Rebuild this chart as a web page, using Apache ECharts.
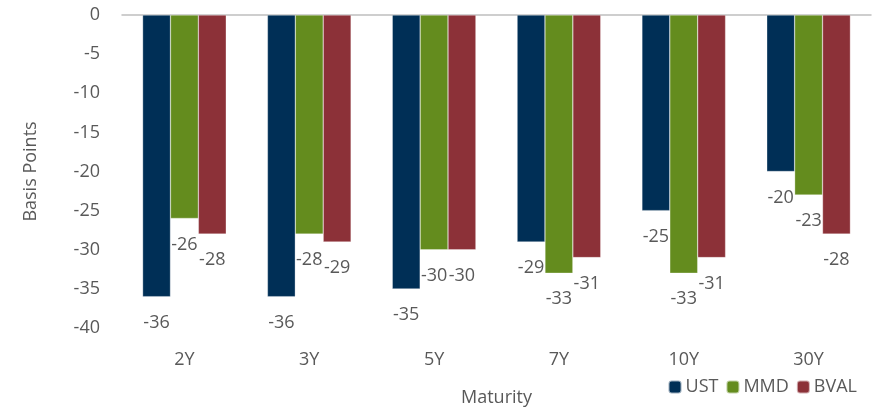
<!DOCTYPE html>
<html>
<head>
<meta charset="utf-8">
<script src="https://cdn.jsdelivr.net/npm/echarts@6/dist/echarts.min.js"></script>
<style>
  html, body { margin: 0; padding: 0; background: #fff; }
  #chart { width: 876px; height: 408px; }
</style>
</head>
<body>
<div id="chart"></div>
<script>
const maturities = ['2Y', '3Y', '5Y', '7Y', '10Y', '30Y'];
const ust = [-36, -36, -35, -29, -25, -20];
const mmd = [-26, -28, -30, -33, -33, -23];
const bval = [-28, -29, -30, -31, -31, -28];

const textColor = '#595959';
const fontFamily = 'Open Sans, sans-serif';
const fs = 18;

function barSeries(name, data, color) {
  return {
    name: name,
    type: 'bar',
    data: data,
    barGap: '0%',
    barCategoryGap: '33%',
    itemStyle: { color: color, borderColor: 'rgba(255,255,255,0.6)', borderWidth: 0.5 },
    label: {
      show: true,
      position: 'bottom',
      distance: 17,
      color: textColor,
      fontSize: fs,
      fontFamily: fontFamily
    }
  };
}

const chart = echarts.init(document.getElementById('chart'));
chart.setOption({
  animation: false,
  textStyle: { fontFamily: fontFamily },
  grid: { left: 122, right: 5, top: 15, bottom: 80, outerBoundsMode: 'none', containLabel: false },
  legend: {
    right: 14,
    bottom: 7,
    itemWidth: 13,
    itemHeight: 13,
    itemGap: 7,
    textStyle: { color: textColor, fontSize: fs, padding: [0, 0, 0, -1] },
    data: ['UST', 'MMD', 'BVAL']
  },
  xAxis: [
    {
      type: 'category',
      data: maturities,
      position: 'bottom',
      axisLine: { show: false, onZero: false },
      axisTick: { show: false },
      axisLabel: { color: textColor, fontSize: fs, margin: 23 },
      name: 'Maturity',
      nameLocation: 'middle',
      nameGap: 61,
      nameTextStyle: { color: textColor, fontSize: fs }
    },
    {
      type: 'category',
      data: maturities,
      position: 'top',
      axisLine: { show: true, lineStyle: { color: '#bfbfbf', width: 1.5 } },
      axisTick: { show: false },
      axisLabel: { show: false }
    }
  ],
  yAxis: {
    type: 'value',
    min: -40,
    max: 0,
    interval: 5,
    axisLine: { show: false },
    axisTick: { show: false },
    splitLine: { show: false },
    axisLabel: { color: textColor, fontSize: fs, margin: 22 },
    name: 'Basis Points',
    nameLocation: 'middle',
    nameGap: 82,
    nameTextStyle: { color: textColor, fontSize: fs }
  },
  series: [
    barSeries('UST', ust, '#002f56'),
    barSeries('MMD', mmd, '#648c1e'),
    barSeries('BVAL', bval, '#8c3138')
  ]
});
</script>
</body>
</html>
